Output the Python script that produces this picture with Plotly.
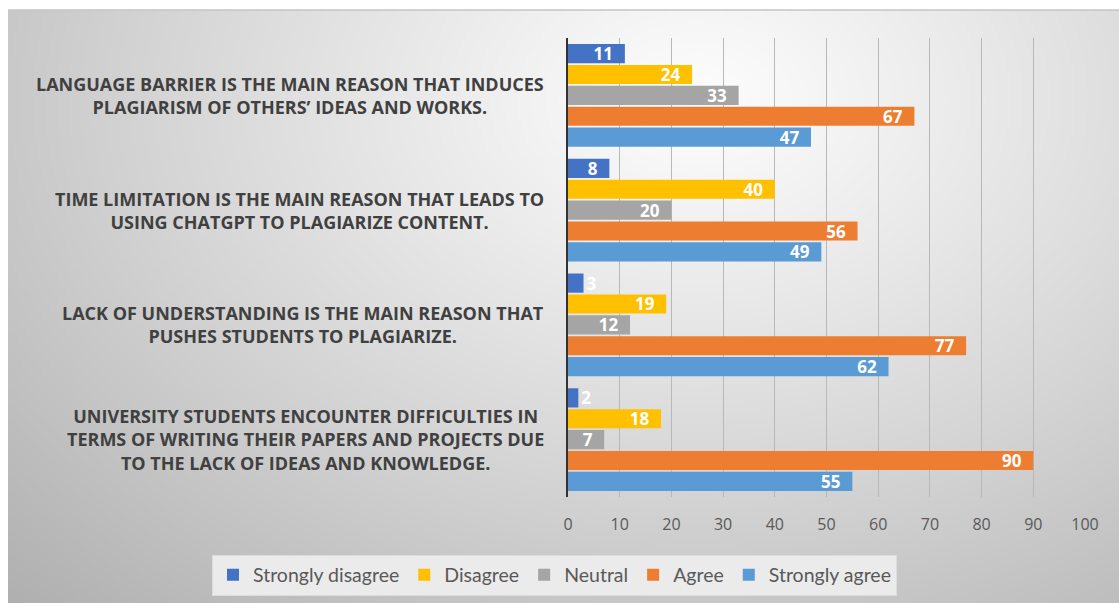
import plotly.graph_objects as go
import numpy as np
import zlib, struct, base64

categories = [
    "LANGUAGE BARRIER IS THE MAIN REASON THAT INDUCES<br>PLAGIARISM OF OTHERS’ IDEAS AND WORKS.",
    "TIME LIMITATION IS THE MAIN REASON THAT LEADS TO<br>USING CHATGPT TO PLAGIARIZE CONTENT.",
    "LACK OF UNDERSTANDING IS THE MAIN REASON THAT<br>PUSHES STUDENTS TO PLAGIARIZE.",
    "UNIVERSITY STUDENTS ENCOUNTER DIFFICULTIES IN<br>TERMS OF WRITING THEIR PAPERS AND PROJECTS DUE<br>TO THE LACK OF IDEAS AND KNOWLEDGE.",
]
series_names = ["Strongly disagree", "Disagree", "Neutral", "Agree", "Strongly agree"]
strongly_disagree = [11, 8, 3, 2]
disagree = [24, 40, 19, 18]
neutral = [33, 20, 12, 7]
agree = [67, 56, 77, 90]
strongly_agree = [47, 49, 62, 55]
series_values = [strongly_disagree, disagree, neutral, agree, strongly_agree]
colors = ["#4472C4", "#FFC000", "#A5A5A5", "#ED7D31", "#5B9BD5"]
x_ticks = list(range(0, 101, 10))

W, H = 1119, 603
L, R, T, B = 568, 34, 38, 106
pw, ph = W - L - R, H - T - B

# background gradient image
iw, ih = 280, 150
xs = (np.arange(iw) + 0.5) / iw
ys = (np.arange(ih) + 0.5) / ih
X, Y = np.meshgrid(xs, ys)
d = np.sqrt(((X - 0.62) / 0.75) ** 2 + ((Y - 0.15) / 1.0) ** 2)
val = np.clip(253 - 64 * np.minimum(d, 1.3) ** 1.1, 0, 255).astype(np.uint8)

def png_gray(arr):
    h, w = arr.shape
    raw = b"".join(b"\x00" + arr[r].tobytes() for r in range(h))
    def chunk(t, data):
        c = struct.pack(">I", len(data)) + t + data
        return c + struct.pack(">I", zlib.crc32(t + data) & 0xffffffff)
    return (b"\x89PNG\r\n\x1a\n" + chunk(b"IHDR", struct.pack(">IIBBBBB", w, h, 8, 0, 0, 0, 0))
            + chunk(b"IDAT", zlib.compress(raw, 9)) + chunk(b"IEND", b""))

uri = "data:image/png;base64," + base64.b64encode(png_gray(val)).decode()

def px2paper_x(px):
    return (px - L) / pw

def px2paper_y(py):
    return (H - B - py) / ph

fig = go.Figure()
for name, vals, col in zip(series_names, series_values, colors):
    fig.add_trace(go.Bar(
        y=categories, x=vals, name=name, orientation="h",
        marker=dict(color=col, line=dict(width=0)),
        text=[str(v) for v in vals],
        texttemplate=["%{text}\u00a0\u00a0" if v >= 5 else "%{text}" for v in vals],
        textposition=["inside" if v >= 5 else "outside" for v in vals],
        insidetextanchor="end",
        textangle=0,
        constraintext="none",
        textfont=dict(family="Open Sans", size=17, color="white", weight="bold"),
        outsidetextfont=dict(family="Open Sans", size=17, color="white", weight="bold"),
        cliponaxis=False,
    ))

annotations = []
for c in categories:
    annotations.append(dict(
        x=0, y=c, xref="paper", yref="y", xanchor="right", yanchor="middle",
        xshift=-22, align="center", showarrow=False, text=c,
        font=dict(family="Open Sans", size=18, color="#404040", weight="bold"),
    ))

fig.update_layout(
    width=W, height=H,
    margin=dict(l=L, r=R, t=T, b=B, autoexpand=False),
    paper_bgcolor="white", plot_bgcolor="rgba(0,0,0,0)",
    barmode="group", bargap=0.09, bargroupgap=0.08,
    uniformtext=dict(minsize=17, mode="show"),
    showlegend=True,
    legend=dict(orientation="h", x=px2paper_x(212), xanchor="left",
                y=px2paper_y(575), yanchor="middle",
                bgcolor="#ebebeb", bordercolor="#dcdcdc", borderwidth=1,
                font=dict(family="Lato", size=19.5, color="#595959"),
                itemwidth=30, traceorder="normal"),
    xaxis=dict(range=[0, 100], tickvals=x_ticks, showgrid=True, gridcolor="#b8b8b8",
               gridwidth=1, zeroline=False, showline=False, ticks="",
               ticklabelstandoff=16,
               tickfont=dict(family="Open Sans", size=16, color="#595959")),
    yaxis=dict(autorange="reversed", showticklabels=False, ticks="", showgrid=False,
               zeroline=False, showline=True, linecolor="#333333", linewidth=2),
    annotations=annotations,
    images=[dict(source=uri, xref="paper", yref="paper",
                 x=px2paper_x(8), y=px2paper_y(10),
                 sizex=(W - 8) / pw, sizey=(H - 10) / ph,
                 xanchor="left", yanchor="top", sizing="stretch", layer="below")],
    shapes=[dict(type="line", xref="paper", yref="paper",
                 x0=px2paper_x(8), x1=px2paper_x(W), y0=px2paper_y(10), y1=px2paper_y(10),
                 line=dict(color="#c4c4c4", width=1.5))],
)

fig.write_html("out.html")
